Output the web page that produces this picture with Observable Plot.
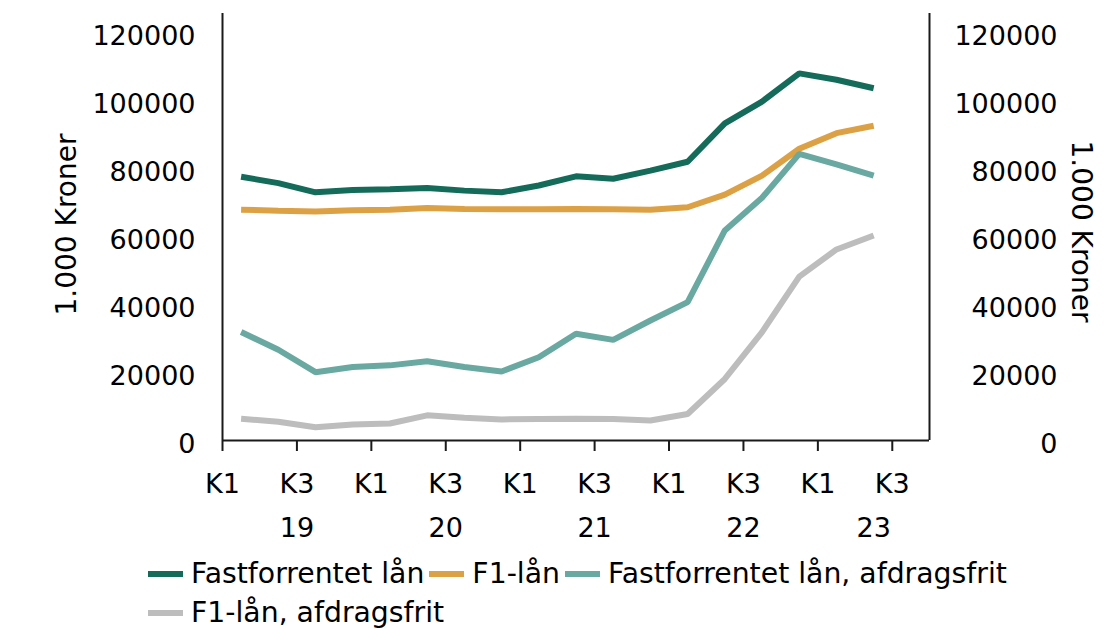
<!DOCTYPE html>
<html>
<head>
<meta charset="utf-8">
<script src="https://cdn.jsdelivr.net/npm/d3@7"></script>
<script src="https://cdn.jsdelivr.net/npm/@observablehq/plot@0.6"></script>
<style>
  body { margin: 0; background: #fff; font-family: "DejaVu Sans", sans-serif; color: #000; }
  #chart svg { display: block; }
  #legend { display: flex; flex-wrap: wrap; width: 900px; margin-left: 148px; margin-top: 4px;
            font-family: "DejaVu Sans", sans-serif; font-size: 28.3px; line-height: 39px; }
  .item { display: flex; align-items: center; margin-right: 5px; white-space: nowrap; }
  .sw { width: 35px; height: 6px; margin-right: 8px; }
</style>
</head>
<body>
<div id="chart"></div>
<div id="legend"></div>
<script>
// ---- data ----
const quarters = ["2019K1","2019K2","2019K3","2019K4","2020K1","2020K2","2020K3","2020K4",
                  "2021K1","2021K2","2021K3","2021K4","2022K1","2022K2","2022K3","2022K4",
                  "2023K1","2023K2","2023K3"];
const seriesNames = ["Fastforrentet lån", "F1-lån", "Fastforrentet lån, afdragsfrit", "F1-lån, afdragsfrit"];
const seriesColors = ["#156b59", "#dda145", "#6aa9a1", "#bdbdbd"];
const fastforrentet = [77600, 75700, 73000, 73700, 73900, 74300, 73500, 73000, 75000, 77700, 77000, 79400, 82000, 93300, 99700, 108000, 106100, 103600];
const f1Laan        = [67900, 67600, 67350, 67700, 67900, 68400, 68100, 68000, 68000, 68100, 68000, 67900, 68600, 72300, 77900, 85800, 90400, 92600];
const fastAfdrag    = [31900, 26700, 20100, 21600, 22100, 23300, 21600, 20300, 24500, 31400, 29600, 35300, 40700, 61800, 71400, 84300, 81200, 77900];
const f1Afdrag      = [6400, 5500, 3900, 4700, 5000, 7400, 6700, 6200, 6300, 6400, 6300, 5900, 7800, 18100, 31900, 48200, 56200, 60300];
const yTicks = [0, 20000, 40000, 60000, 80000, 100000, 120000];
const yAxisTitle = "1.000 Kroner";

// ---- build tables ----
const seriesValues = [fastforrentet, f1Laan, fastAfdrag, f1Afdrag];
const rows = seriesValues.flatMap((vals, s) =>
  vals.map((v, i) => ({series: seriesNames[s], idx: i + 0.5, value: v})));
const tickIdx = quarters.map((q, i) => i).filter(i => /K[13]$/.test(quarters[i]));
const years = d3.groups(quarters.map((q, i) => ({yr: q.slice(2, 4), i})), d => d.yr)
  .map(([yr, arr]) => ({yr, pos: (arr[0].i + arr[arr.length - 1].i + 1) / 2}));
const axisColor = "#1a1a1a";

const plot = Plot.plot({
  width: 1112,
  height: 550,
  marginLeft: 222,
  marginRight: 183,
  marginTop: 13,
  marginBottom: 110,
  style: {fontFamily: "DejaVu Sans", fontSize: "27px", color: "#000", background: "#fff"},
  x: {domain: [0, quarters.length]},
  y: {domain: [0, 125600]},
  color: {domain: seriesNames, range: seriesColors},
  marks: [
    Plot.line(rows, {x: "idx", y: "value", z: "series", stroke: "series",
                     strokeWidth: 6, strokeLinecap: "butt", strokeLinejoin: "miter"}),
    Plot.ruleX([0, quarters.length], {stroke: axisColor, strokeWidth: 2}),
    Plot.ruleY([0], {stroke: axisColor, strokeWidth: 2}),
    Plot.axisY({anchor: "left", ticks: yTicks, tickSize: 0, tickPadding: 27, dy: 3.5,
                label: null, tickFormat: d => String(d)}),
    Plot.axisY({anchor: "right", ticks: yTicks, tickSize: 0, tickPadding: 128, dy: 3.5,
                textAnchor: "end", label: null, tickFormat: d => String(d)}),
    Plot.axisX({ticks: tickIdx, tickFormat: i => quarters[i].slice(4), tickSize: 11,
                tickPadding: 22, label: null, stroke: axisColor, strokeWidth: 2}),
    Plot.axisX({ticks: years.map(d => d.pos),
                tickFormat: p => years.find(d => d.pos === p).yr,
                tickSize: 0, tickPadding: 77, label: null}),
    Plot.text([yAxisTitle], {frameAnchor: "left", textAnchor: "middle", lineAnchor: "middle",
                             rotate: -90, dx: -155, dy: -2.5, fill: "#000", fontSize: 28}),
    Plot.text([yAxisTitle], {frameAnchor: "right", textAnchor: "middle", lineAnchor: "middle",
                             rotate: 90, dx: 151, dy: 4.5, fill: "#000", fontSize: 28})
  ]
});
document.getElementById("chart").appendChild(plot);

// ---- legend ----
const legend = document.getElementById("legend");
seriesNames.forEach((name, i) => {
  const item = document.createElement("div");
  item.className = "item";
  const sw = document.createElement("span");
  sw.className = "sw";
  sw.style.background = seriesColors[i];
  const label = document.createElement("span");
  label.textContent = name;
  item.appendChild(sw);
  item.appendChild(label);
  legend.appendChild(item);
});
</script>
</body>
</html>
